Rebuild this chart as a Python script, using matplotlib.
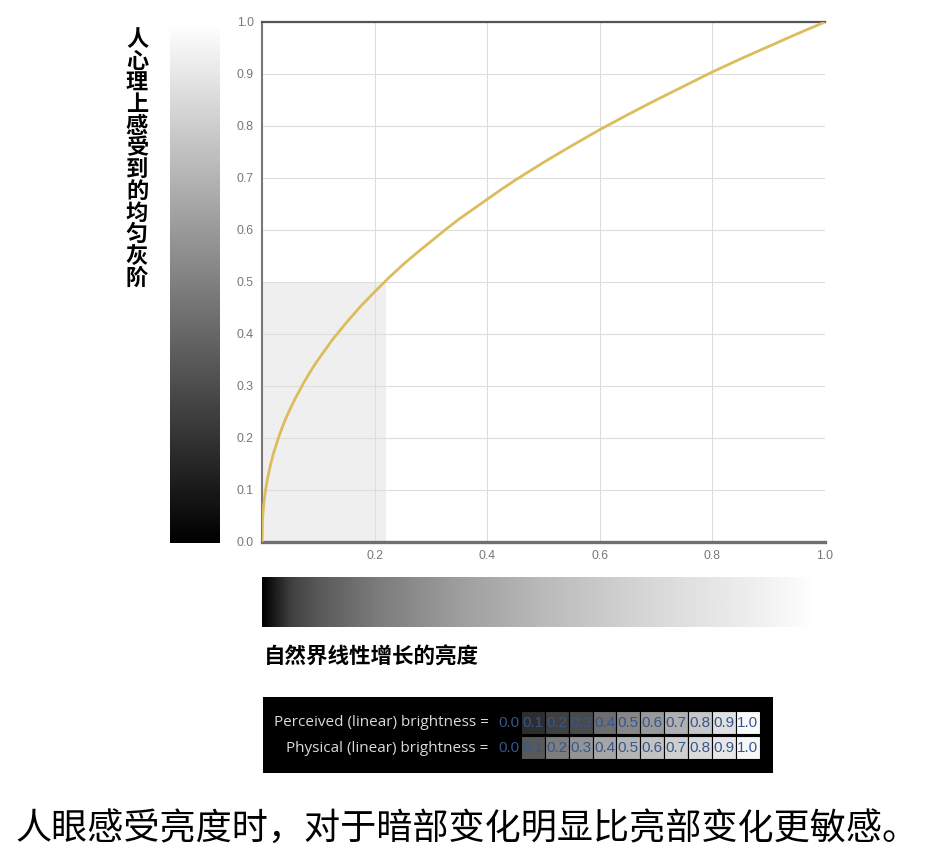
import matplotlib.pyplot as plt
import numpy as np
from matplotlib.colors import LinearSegmentedColormap

plt.rcParams['font.family'] = ['Noto Sans CJK SC', 'DejaVu Sans']

# 曲线数据
curve_x = [0, 0.001, 0.002, 0.003, 0.005, 0.0075, 0.01, 0.015, 0.02, 0.03, 0.04,
           0.05, 0.06, 0.075, 0.09, 0.1, 0.125, 0.15, 0.175, 0.2, 0.225, 0.25,
           0.275, 0.3, 0.325, 0.35, 0.375, 0.4, 0.425, 0.45, 0.475, 0.5, 0.55,
           0.6, 0.65, 0.7, 0.75, 0.8, 0.85, 0.9, 0.95, 1.0]
curve_y = [0, 0.043, 0.059, 0.071, 0.090, 0.108, 0.123, 0.148, 0.169, 0.203, 0.232,
           0.256, 0.278, 0.308, 0.335, 0.351, 0.389, 0.422, 0.453, 0.481, 0.508, 0.533,
           0.556, 0.578, 0.600, 0.621, 0.640, 0.659, 0.678, 0.696, 0.713, 0.730, 0.762,
           0.793, 0.822, 0.850, 0.877, 0.904, 0.929, 0.953, 0.977, 1.0]
shade_x = [0, 0.22]
shade_y = 0.5
xticks = [0.2, 0.4, 0.6, 0.8, 1.0]
yticks = [0.0, 0.1, 0.2, 0.3, 0.4, 0.5, 0.6, 0.7, 0.8, 0.9, 1.0]

ylabel = "人心理上感受到的均匀灰阶"
xlabel = "自然界线性增长的亮度"
caption = "人眼感受亮度时，对于暗部变化明显比亮部变化更敏感。"

# 下方黑框中的格子
cell_labels = ["0.0", "0.1", "0.2", "0.3", "0.4", "0.5", "0.6", "0.7", "0.8", "0.9", "1.0"]
row_names = ["Perceived (linear) brightness =", "Physical (linear) brightness ="]
gray_perceived = [0.0, 0.18, 0.25, 0.29, 0.43, 0.53, 0.60, 0.69, 0.78, 0.88, 0.98]
gray_physical = [0.0, 0.35, 0.49, 0.58, 0.65, 0.71, 0.76, 0.81, 0.86, 0.91, 0.97]

# 横向渐变条的灰度 (自然线性亮度)
hbar_pos = [0, 0.05, 0.1, 0.2, 0.35, 0.5, 0.7, 0.9, 0.98, 1.0]
hbar_gray = [0, 0.25, 0.35, 0.48, 0.62, 0.73, 0.85, 0.95, 1.0, 1.0]

W, H = 934, 864


def box(l, t, r, b):
    return [l / W, 1 - b / H, (r - l) / W, (b - t) / H]


fig = plt.figure(figsize=(W / 100, H / 100), dpi=100)

# 主图
ax = fig.add_axes(box(262, 22, 825, 542))
ax.fill_between(shade_x, 0, shade_y, color='#efefef', lw=0, zorder=0.5)
ax.plot(curve_x, curve_y, color='#dcbc5c', lw=2.0, zorder=3,
        solid_joinstyle='round', solid_capstyle='round')
ax.set_xlim(0, 1)
ax.set_ylim(0, 1)
ax.set_xticks(xticks)
ax.set_yticks(yticks)
ax.set_xticklabels([f"{v:.1f}" for v in xticks])
ax.set_yticklabels([f"{v:.1f}" for v in yticks])
ax.grid(True, color='#dddddd', lw=0.8)
ax.tick_params(length=0, colors='#777777', labelsize=8.8, pad=6)
for lab in ax.get_xticklabels() + ax.get_yticklabels():
    lab.set_family('Liberation Sans')
ax.spines['right'].set_visible(False)
ax.spines['top'].set_color('#555555')
ax.spines['top'].set_linewidth(1.6)
ax.spines['left'].set_color('#777777')
ax.spines['left'].set_linewidth(1.5)
ax.spines['bottom'].set_color('#6f6f6f')
ax.spines['bottom'].set_linewidth(2.4)

# 左侧竖向渐变条
ax_v = fig.add_axes(box(170, 25, 220, 543))
ax_v.imshow(np.linspace(0, 1, 256).reshape(-1, 1), cmap='gray', origin='lower',
            aspect='auto', vmin=0, vmax=1)
ax_v.axis('off')

# 下方横向渐变条
hcmap = LinearSegmentedColormap.from_list(
    'hbar', [(p, (g, g, g)) for p, g in zip(hbar_pos, hbar_gray)])
ax_h = fig.add_axes(box(262, 577, 825, 627))
ax_h.imshow(np.linspace(0, 1, 512).reshape(1, -1), cmap=hcmap, aspect='auto',
            vmin=0, vmax=1)
ax_h.axis('off')

# 竖排标签
n = len(ylabel)
for i, ch in enumerate(ylabel):
    y_px = 40 + i * (278 - 40) / (n - 1)
    fig.text(137 / W, 1 - y_px / H, ch, ha='center', va='center',
             fontsize=16, fontweight='bold', color='black')

fig.text(264 / W, 1 - 657 / H, xlabel, ha='left', va='center',
         fontsize=15.5, fontweight='bold', color='black')

# 黑框
ax_b = fig.add_axes(box(263, 697, 773, 773))
ax_b.set_facecolor('black')
ax_b.set_xlim(-9.79, 11.55)
ax_b.set_ylim(2.48, -0.56)
ax_b.set_xticks([])
ax_b.set_yticks([])
for s in ax_b.spines.values():
    s.set_visible(False)
for r, grays in enumerate([gray_perceived, gray_physical]):
    ax_b.bar(np.arange(len(grays)), 0.92, bottom=r, width=1, align='edge',
             color=[(g, g, g) for g in grays], edgecolor='black', lw=0.8)
    for i, lab in enumerate(cell_labels):
        ax_b.text(i + 0.5, r + 0.48, lab, ha='center', va='center',
                  fontsize=11, color='#34578f', family='Liberation Sans')
    ax_b.text(-0.35, r + 0.48, row_names[r], ha='right', va='center',
              fontsize=11, color='#dadada', family='Open Sans')

fig.text(467 / W, 1 - 829 / H, caption, ha='center', va='center',
         fontsize=26, color='black')

fig.savefig("out.png", dpi=100)
